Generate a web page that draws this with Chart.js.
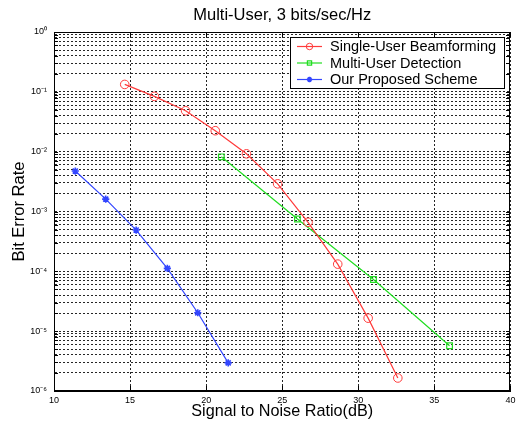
<!DOCTYPE html>
<html><head><meta charset="utf-8">
<script src="https://cdn.jsdelivr.net/npm/chart.js@4.4.1/dist/chart.umd.min.js"></script>
<style>html,body{margin:0;padding:0;background:#fff;}#wrap{width:516px;height:423px;}</style>
</head><body><div id="wrap"><canvas id="c" width="516" height="423"></canvas></div>
<script>
// ---- text ----
const chartTitle = 'Multi-User, 3 bits/sec/Hz';
const xAxisTitle = 'Signal to Noise Ratio(dB)';
const yAxisTitle = 'Bit Error Rate';
const seriesNames = ['Single-User Beamforming', 'Multi-User Detection', 'Our Proposed Scheme'];

// ---- data ----
const sbSNR = [14.65, 16.6, 18.65, 20.6, 22.65, 24.7, 26.7, 28.65, 30.65, 32.6];
const sbBER = [0.133, 0.084, 0.0483, 0.0224, 0.0092, 0.0029, 6.6e-4, 1.32e-4, 1.65e-5, 1.65e-6];
const mudSNR = [21.0, 26.0, 31.0, 36.0];
const mudBER = [0.0082, 7.5e-4, 7.3e-5, 5.7e-6];
const propSNR = [11.4, 13.4, 15.4, 17.45, 19.45, 21.45];
const propBER = [4.74e-3, 1.61e-3, 4.9e-4, 1.12e-4, 2.03e-5, 2.95e-6];

// ---- ticks ----
const xTickValues = [10, 15, 20, 25, 30, 35, 40];
const yDecades = [1e-6, 1e-5, 1e-4, 1e-3, 1e-2, 1e-1, 1];
const yTickLabels = ['10\u207B\u2076', '10\u207B\u2075', '10\u207B\u2074', '10\u207B\u00B3', '10\u207B\u00B2', '10\u207B\u00B9', '10\u2070'];

const FONT = "'Liberation Sans', Arial, Helvetica, sans-serif";
Chart.defaults.font.family = FONT;
Chart.defaults.color = '#000';

function series(label, xs, ys, color, style, radius, bw) {
  return {
    label, data: xs.map((x, i) => ({x, y: ys[i]})),
    borderColor: color, backgroundColor: 'rgba(0,0,0,0)', borderWidth: 1.2,
    pointStyle: style, pointRadius: radius, pointBorderColor: color,
    pointBackgroundColor: 'rgba(0,0,0,0)', pointBorderWidth: bw, tension: 0, fill: false
  };
}

const datasets = [
  series(seriesNames[0], sbSNR, sbBER, '#ff3b3b', 'circle', 4.3, 1),
  series(seriesNames[1], mudSNR, mudBER, '#22dd22', 'rect', 4, 1.2),
  series(seriesNames[2], propSNR, propBER, '#3346ff', 'star', 3.6, 1.6)
];

const framePlugin = {
  id: 'frame',
  afterDatasetsDraw(chart) {
    const {ctx, chartArea: a} = chart;
    const L = Math.round(a.left), R = Math.round(a.right), T = Math.round(a.top), B = Math.round(a.bottom);
    ctx.save();
    ctx.setLineDash([]);
    ctx.strokeStyle = '#000';
    ctx.lineWidth = 1;
    // inward ticks
    const ys = chart.scales.y, xs = chart.scales.x;
    ctx.beginPath();
    ys.ticks.forEach(t => {
      const p = Math.round(ys.getPixelForValue(t.value)) + 0.5;
      ctx.moveTo(L, p); ctx.lineTo(L + 4, p);
      ctx.moveTo(R, p); ctx.lineTo(R - 4, p);
    });
    xs.ticks.forEach(t => {
      const p = Math.round(xs.getPixelForValue(t.value)) + 0.5;
      ctx.moveTo(p, B); ctx.lineTo(p, B - 5);
      ctx.moveTo(p, T); ctx.lineTo(p, T + 5);
    });
    ctx.stroke();
    ctx.strokeRect(L + 0.5, T + 0.5, R - L - 1, B - T - 1);

    // legend
    const bx = R - 220, by = T + 5, bw = 214, bh = 51;
    ctx.fillStyle = '#fff';
    ctx.fillRect(bx, by, bw, bh);
    ctx.strokeRect(bx + 0.5, by + 0.5, bw, bh);
    ctx.font = '14.5px ' + FONT;
    ctx.textBaseline = 'middle';
    ctx.textAlign = 'left';
    chart.data.datasets.forEach((d, i) => {
      const y = by + 9.5 + i * 16.5;
      ctx.strokeStyle = d.borderColor;
      ctx.lineWidth = 1.2;
      ctx.beginPath(); ctx.moveTo(bx + 7, y); ctx.lineTo(bx + 32, y); ctx.stroke();
      ctx.fillStyle = 'rgba(0,0,0,0)';
      ctx.lineWidth = d.pointBorderWidth;
      if (Chart.helpers && Chart.helpers.drawPoint) {
        Chart.helpers.drawPoint(ctx, {pointStyle: d.pointStyle, rotation: 0, radius: d.pointRadius * 0.75, borderWidth: d.pointBorderWidth}, bx + 19.5, y);
      }
      ctx.fillStyle = '#000';
      ctx.fillText(d.label, bx + 40, y + 0.5);
    });
    ctx.restore();
  }
};

new Chart(document.getElementById('c'), {
  type: 'line',
  data: {datasets},
  plugins: [framePlugin],
  options: {
    responsive: false, animation: false, devicePixelRatio: 1,
    layout: {padding: {left: 0, right: 3, top: 0, bottom: 0}},
    plugins: {
      legend: {display: false}, tooltip: {enabled: false},
      title: {display: true, fullSize: false, text: chartTitle, color: '#000', font: {size: 16.5, weight: 'normal'}, padding: {top: 6, bottom: 6.2}}
    },
    scales: {
      x: {
        type: 'linear', min: 10, max: 40,
        afterBuildTicks(s) { s.ticks = xTickValues.map(v => ({value: v})); },
        ticks: {font: {size: 9}, padding: 4, color: '#000', autoSkip: false, maxRotation: 0},
        grid: {color: 'rgba(0,0,0,0.85)', lineWidth: 1, drawTicks: false},
        border: {display: true, color: '#000', dash: [2, 2]},
        title: {display: true, text: xAxisTitle, color: '#000', font: {size: 16.2}, padding: {top: 0, bottom: 1.6}},
        afterFit(s) { s.height = 32; s.paddingLeft = 0; s.paddingRight = 0; }
      },
      y: {
        type: 'logarithmic', min: 1e-6, max: 1,
        afterBuildTicks(s) {
          const t = [];
          for (let d = 0; d < yDecades.length - 1; d++) {
            for (let m = 1; m <= 9; m++) t.push({value: m * yDecades[d], major: m === 1});
          }
          t.push({value: yDecades[yDecades.length - 1], major: true});
          s.ticks = t;
        },
        ticks: {
          font: {size: 9}, padding: 7, color: '#000', autoSkip: false,
          callback(v) {
            const i = yDecades.findIndex(d => Math.abs(d - v) / d < 1e-6);
            return i >= 0 ? yTickLabels[i] : '';
          }
        },
        grid: {color: 'rgba(0,0,0,0.85)', lineWidth: 1, drawTicks: false},
        border: {display: true, color: '#000', dash: [2, 2]},
        title: {display: true, text: yAxisTitle, color: '#000', font: {size: 16.5}, padding: {top: 9.3, bottom: 0}},
        afterFit(s) { s.width = 54; s.paddingTop = 0; s.paddingBottom = 0; }
      }
    }
  }
});
</script>
</body></html>
